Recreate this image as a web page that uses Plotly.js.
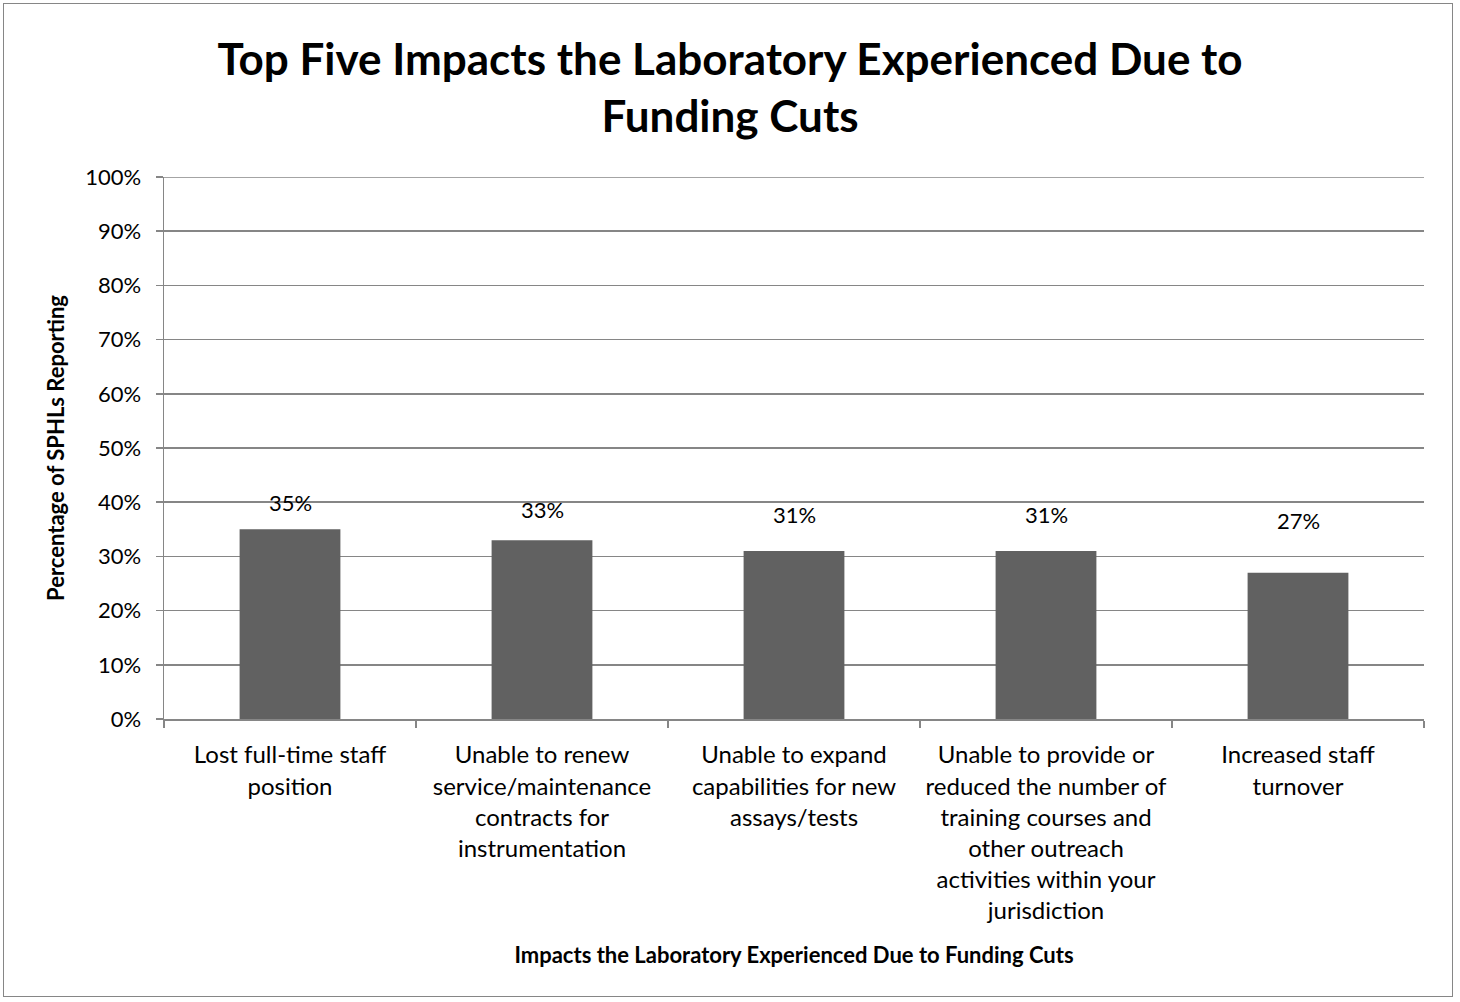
<!DOCTYPE html>
<html><head><meta charset="utf-8">
<script src="https://cdn.plot.ly/plotly-3.0.1.min.js"></script>
<style>
html,body{margin:0;padding:0;background:#fff;}
#wrap{position:absolute;left:0;top:0;width:1460px;height:1002px;}
#frame{position:absolute;left:3px;top:3px;width:1450px;height:994px;border:1.5px solid #868686;box-sizing:border-box;pointer-events:none;}
#chart{width:1460px;height:1002px;}
</style></head><body>
<div id="wrap"><div id="chart"></div><div id="frame"></div></div>
<script>
var categories = [
  "Lost full-time staff<br>position",
  "Unable to renew<br>service/maintenance<br>contracts for<br>instrumentation",
  "Unable to expand<br>capabilities for new<br>assays/tests",
  "Unable to provide or<br>reduced the number of<br>training courses and<br>other outreach<br>activities within your<br>jurisdiction",
  "Increased staff<br>turnover"
];
var values = [0.35, 0.33, 0.31, 0.31, 0.27];
var labels = ["35%", "33%", "31%", "31%", "27%"];
var yTicks = [0, 0.1, 0.2, 0.3, 0.4, 0.5, 0.6, 0.7, 0.8, 0.9, 1.0];

// label offsets above bar tops (pixels), as placed in the original
var labelShift = [11, 15, 21, 21, 37];

var fontFam = "Lato, 'Open Sans', sans-serif";
var trace = {
  type: "bar", x: categories, y: values,
  marker: {color: "#616161"},
  hoverinfo: "none"
};
var annotations = categories.map(function(c, i){
  return {x: c, y: values[i], text: labels[i], showarrow: false, yanchor: "bottom", yshift: labelShift[i],
          font: {family: fontFam, size: 22, color: "#000"}};
});
var layout = {
  width: 1460, height: 1002,
  margin: {l: 164, r: 36, t: 177, b: 283},
  paper_bgcolor: "#fff", plot_bgcolor: "#fff",
  bargap: 0.6,
  showlegend: false,
  title: {text: "<b>Top Five Impacts the Laboratory Experienced Due to<br>Funding Cuts</b>",
          font: {family: fontFam, size: 44, color: "#000"}, x: 0.5, xanchor: "center", y: 0.925, yanchor: "top"},
  xaxis: {
    showgrid: false, showline: true, linecolor: "#868686", linewidth: 1.5,
    ticks: "outside", tickson: "boundaries", ticklen: 7, tickcolor: "#868686", tickwidth: 1.5,
    ticklabelstandoff: 14,
    tickfont: {family: fontFam, size: 24, color: "#000"}, tickangle: 0,
    title: {text: "<b>Impacts the Laboratory Experienced Due to Funding Cuts</b>", font: {family: fontFam, size: 22, color: "#000"}, standoff: 24}
  },
  yaxis: {
    range: [0, 1], tickvals: yTicks, tickformat: ".0%",
    showgrid: true, gridcolor: "#868686", gridwidth: 1.5,
    showline: true, linecolor: "#868686", linewidth: 1.5,
    ticks: "outside", ticklen: 7, tickcolor: "#868686", tickwidth: 1.5,
    ticklabelstandoff: 10,
    tickfont: {family: fontFam, size: 22, color: "#000"},
    zeroline: false,
    title: {text: "<b>Percentage of SPHLs Reporting</b>", font: {family: fontFam, size: 22, color: "#000"}, standoff: 14}
  },
  shapes: [{type: "line", xref: "paper", yref: "y", x0: 0, x1: 1, y0: yTicks[yTicks.length - 1], y1: yTicks[yTicks.length - 1],
            line: {color: "#868686", width: 1.5}}],
  annotations: annotations
};
Plotly.newPlot("chart", [trace], layout, {displayModeBar: false, staticPlot: true});
</script>
</body></html>
